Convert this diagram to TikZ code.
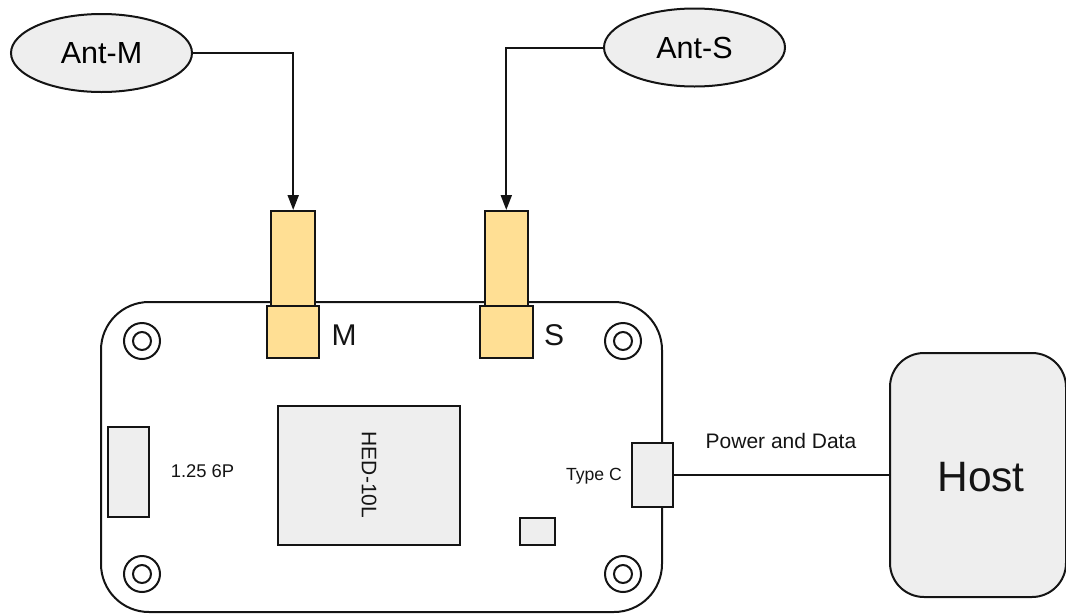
\documentclass[tikz,border=0pt]{standalone}
\usepackage{fontspec}
\setmainfont{Liberation Sans}
\usetikzlibrary{shapes.geometric,arrows.meta}
\definecolor{yellow1}{HTML}{FFDF94}
\definecolor{grey1}{HTML}{EEEEEE}
\definecolor{ink}{HTML}{141414}
\tikzset{
  x=1pt,y=-1pt,
  gold/.style={draw=ink,fill=yellow1,inner sep=0},
  grey/.style={draw=ink,fill=grey1,inner sep=0},
  antenna/.style={draw=ink,ellipse,fill=grey1,inner sep=0,minimum width=181pt,minimum height=78pt,font=\fontsize{30.5}{32}\selectfont},
  hole/.style={draw=ink,circle,inner sep=0,minimum size=#1},
  lbl/.style={inner sep=0,font=\fontsize{#1}{#1}\selectfont,text=ink},
  wire/.style={draw=ink,-{Triangle[length=15pt,width=11pt]}},
}
\begin{document}
\begin{tikzpicture}[line width=2pt]
\useasboundingbox (0,0) rectangle (1066,614);
\node[draw=ink,rectangle,rounded corners=48pt,inner sep=0,minimum width=561pt,minimum height=310pt] (board) at (381.5,457) {};
\foreach \n/\x/\y in {a/142/341,b/623/341,c/142/574,d/623/574}{
  \node[hole=36pt] (h\n o) at (\x,\y) {};
  \node[hole=18pt] (h\n i) at (\x,\y) {};
}
\node[gold,minimum width=43.5pt,minimum height=95pt] (mu) at (293.2,258.5) {};
\node[gold,minimum width=52.5pt,minimum height=52pt] (ml) at (293.2,332) {};
\node[gold,minimum width=43.5pt,minimum height=95pt] (su) at (506.3,258.5) {};
\node[gold,minimum width=52.5pt,minimum height=52pt] (sl) at (506.3,332) {};
\node[lbl=30] (mt) at (344,335) {M};
\node[lbl=30] (st) at (554,335) {S};
\node[antenna] (am) at (101.5,53) {Ant-M};
\node[antenna] (as) at (694.5,47.5) {Ant-S};
\draw[wire] (am.east) -| (mu.north);
\draw[wire] (as.west) -| (su.north);
\node[grey,minimum width=41pt,minimum height=90pt] (conn) at (128.5,472) {};
\node[lbl=18.4] (conntext) at (202.5,471) {1.25 6P};
\node[grey,minimum width=182pt,minimum height=139pt] (hed) at (369,475) {};
\node[lbl=21,rotate=-90] (hedtext) at (369,475) {HED-10L};
\node[grey,minimum width=35pt,minimum height=27pt] (small) at (537.5,531.5) {};
\node[grey,minimum width=41pt,minimum height=64pt] (usb) at (652.5,475) {};
\node[lbl=17.6] (usbtext) at (594,476) {Type C};
\node[grey,rectangle,rounded corners=34pt,minimum width=176pt,minimum height=244pt] (host) at (978,475) {};
\node[lbl=42.5] (hosttext) at (981,477) {Host};
\draw[draw=ink] (usb.east |- host.west) -- (host.west);
\node[lbl=21] (pd) at (781,441) {Power and Data};
\end{tikzpicture}
\end{document}
